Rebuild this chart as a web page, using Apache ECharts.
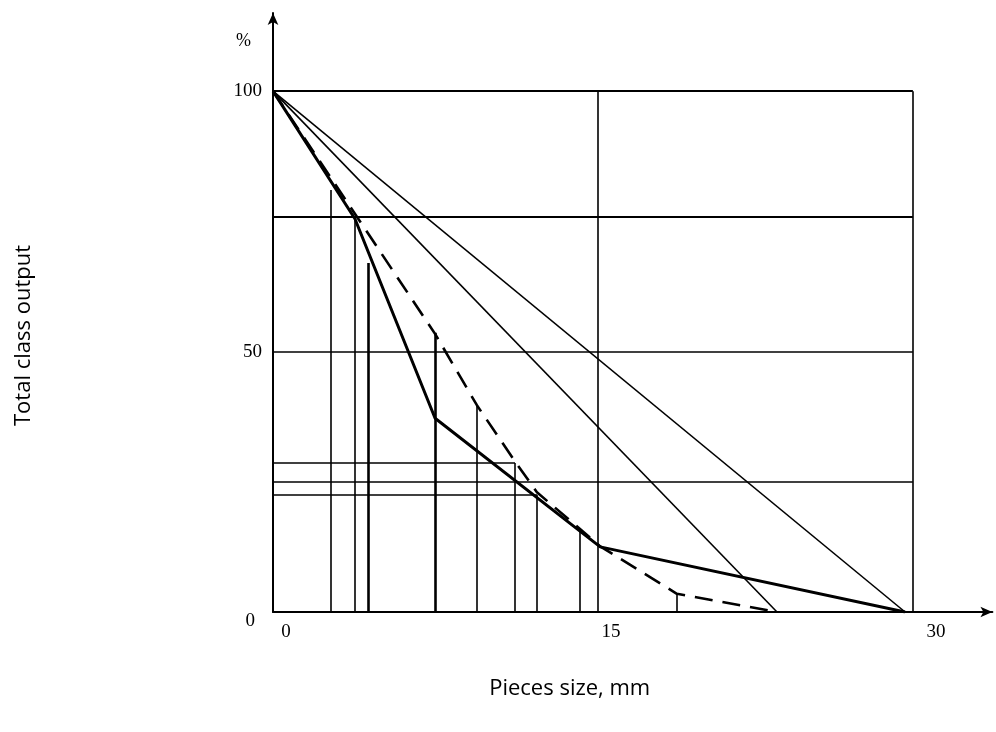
<!DOCTYPE html>
<html>
<head>
<meta charset="utf-8">
<script src="https://cdn.jsdelivr.net/npm/echarts@6/dist/echarts.min.js"></script>
<style>html,body{margin:0;padding:0;background:#fff;}#c{width:996px;height:732px;}</style>
</head>
<body>
<div id="c"></div>
<script>
// ---- data (value units: x = piece size mm, y = total class output %) ----
const xTickLabels = ['0', '15', '30'];
const yTickLabels = ['0', '50', '100'];
// thick solid broken curve
const curveSolid = [[0, 100], [3.78, 75.5], [7.48, 37.2], [15.1, 12.5], [29.17, 0]];
// dashed broken curve
const curveDashed = [[0, 100], [7.48, 53.4], [9.41, 39.7], [11.17, 28.9], [12.18, 23.0], [15.1, 12.6], [18.64, 3.5], [23.26, 0]];
// thin straight lines
const lineA = [[0, 100], [29.17, 0]];
const lineB = [[0, 100], [23.26, 0]];
// vertical drop lines: [x, top y]
const dropLinesThin = [[2.68, 81.0], [3.78, 75.5], [9.41, 39.7], [11.17, 28.6], [12.18, 22.5], [14.17, 15.4], [18.64, 3.6], [15.0, 100], [29.53, 100]];
const dropLinesThick = [[4.38, 67.0], [7.48, 53.6]];
// horizontal lines: [y, right x]
const hLinesThick = [[100, 29.53], [75.8, 29.53]];
const hLinesThin = [[49.9, 29.53], [28.6, 11.17], [24.95, 29.53], [22.5, 12.18]];

const chart = echarts.init(document.getElementById('c'));
const vSeg = arr => arr.map(d => ({coords: [[d[0], 0], [d[0], d[1]]]}));
const hSeg = arr => arr.map(d => ({coords: [[0, d[0]], [d[1], d[0]]]}));
const serif = 'Liberation Serif';
const option = {
  animation: false,
  grid: {left: 273, top: 13, width: 719.4, height: 599},
  xAxis: {
    type: 'value', min: 0, max: 33.2, interval: 15,
    axisLine: {lineStyle: {color: '#000', width: 2}, symbol: ['none', 'arrow'], symbolSize: [8, 12]},
    axisTick: {show: false},
    splitLine: {show: false},
    axisLabel: {
      color: '#000', fontFamily: serif, fontSize: 19, margin: 11, showMaxLabel: false,
      padding: [0, 0, 0, 26],
      formatter: v => { const i = [0, 15, 30].indexOf(v); return i >= 0 ? xTickLabels[i] : ''; }
    },
    name: 'Pieces size, mm', nameLocation: 'middle', nameGap: 66,
    nameTextStyle: {color: '#000', fontFamily: 'Open Sans', fontSize: 22, padding: [0, 126, 0, 0]}
  },
  yAxis: {
    type: 'value', min: 0, max: 115, interval: 50,
    axisLine: {lineStyle: {color: '#000', width: 2}, symbol: ['none', 'arrow'], symbolSize: [8, 12]},
    axisTick: {show: false},
    splitLine: {show: false},
    axisLabel: {
      color: '#000', fontFamily: serif, fontSize: 19, margin: 11, showMaxLabel: false,
      formatter: v => { const i = [0, 50, 100].indexOf(v); if (i < 0) return ''; return i === 0 ? '{low|' + yTickLabels[i] + '}' : yTickLabels[i]; },
      rich: {low: {color: '#000', fontFamily: serif, fontSize: 19, padding: [18, 7, 0, 0]}}
    },
    name: 'Total class output', nameLocation: 'middle', nameGap: 238,
    nameTextStyle: {color: '#000', fontFamily: 'Open Sans', fontSize: 22, padding: [0, 46, 0, 0]}
  },
  graphic: [{type: 'text', left: 236, top: 32, style: {text: '%', font: '18px "Liberation Serif"', fill: '#000'}}],
  series: [
    {type: 'lines', coordinateSystem: 'cartesian2d', data: hSeg(hLinesThick), lineStyle: {color: '#000', width: 2.2, opacity: 1}},
    {type: 'lines', coordinateSystem: 'cartesian2d', data: hSeg(hLinesThin), lineStyle: {color: '#000', width: 1.5, opacity: 1}},
    {type: 'lines', coordinateSystem: 'cartesian2d', data: vSeg(dropLinesThin), lineStyle: {color: '#000', width: 1.6, opacity: 1}},
    {type: 'lines', coordinateSystem: 'cartesian2d', data: vSeg(dropLinesThick), lineStyle: {color: '#000', width: 2.6, opacity: 1}},
    {type: 'line', data: lineA, symbol: 'none', lineStyle: {color: '#000', width: 1.6}},
    {type: 'line', data: lineB, symbol: 'none', lineStyle: {color: '#000', width: 1.6}},
    {type: 'line', data: curveDashed, symbol: 'none', lineStyle: {color: '#000', width: 2.6, type: [18, 10]}},
    {type: 'line', data: curveSolid, symbol: 'none', lineStyle: {color: '#000', width: 3}}
  ]
};
chart.setOption(option);
</script>
</body>
</html>
